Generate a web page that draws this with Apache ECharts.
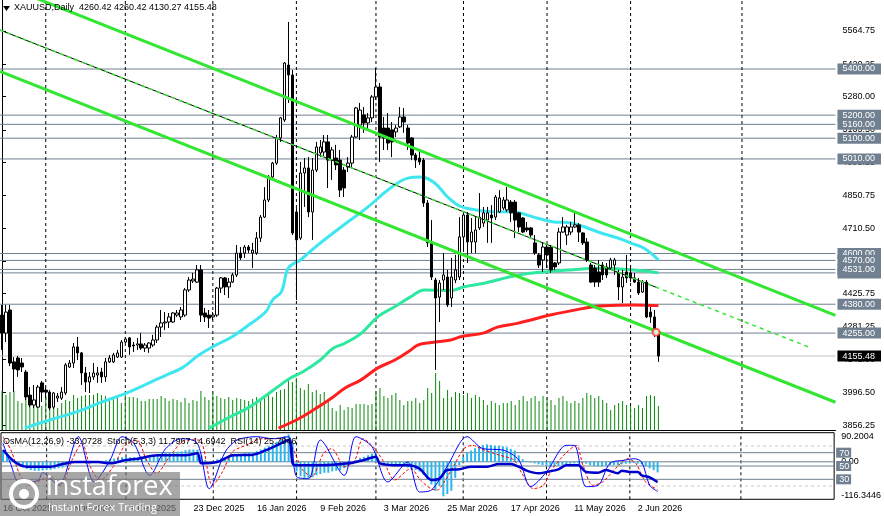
<!DOCTYPE html>
<html>
<head>
<meta charset="utf-8">
<script src="https://cdn.jsdelivr.net/npm/echarts@6/dist/echarts.min.js"></script>
<style>
html, body { margin: 0; padding: 0; background: #fff; }
#chart { width: 884px; height: 516px; }
</style>
</head>
<body>
<div id="chart"></div>
<script>
// XAUUSD daily, 16 Oct 2025 .. 9 Jun 2026
var open = [4333,4255,4355,4130,4147,4125,4086,3986,3943,3934,
  4039,4008,3999,3934,3973,3973,3995,4108,4125,4195,
  4169,4082,4043,4065,4073,4086,4065,4130,4130,4151,
  4151,4216,4234,4203,4203,4208,4190,4190,4203,4225,
  4281,4299,4303,4303,4333,4325,4333,4442,4481,4476,
  4529,4342,4333,4325,4333,4450,4494,4455,4476,4507,
  4602,4602,4628,4602,4602,4667,4758,4832,4932,4992,
  5101,5179,5417,5374,4780,4667,4949,4971,4780,4962,
  5036,5040,5084,5005,5014,5005,4962,4975,4992,5105,
  5157,5201,5166,5188,5279,5322,5144,5144,5136,5127,
  5149,5192,5144,5101,5027,5014,5005,4819,4646,4485,
  4411,4485,4498,4407,4485,4498,4672,4767,4650,4650,
  4711,4732,4745,4767,4758,4780,4797,4789,4823,4823,
  4776,4754,4711,4711,4646,4594,4572,4628,4628,4559,
  4559,4693,4680,4693,4715,4724,4689,4650,4550,4537,
  4520,4550,4542,4537,4550,4516,4455,4520,4516,4494,
  4476,4433,4476,4346,4325,4260.42];
var high = [4377,4377,4377,4151,4156,4147,4095,4021,4030,4030,
  4047,4021,4008,3999,3995,4021,4125,4138,4212,4238,
  4173,4108,4086,4125,4108,4104,4147,4160,4169,4182,
  4225,4238,4238,4216,4234,4255,4212,4216,4247,4290,
  4355,4346,4342,4346,4355,4368,4450,4498,4516,4550,
  4550,4364,4355,4346,4455,4498,4498,4494,4516,4637,
  4628,4637,4637,4646,4693,4767,4888,4940,4997,5114,
  5192,5430,5604,5396,4797,4997,5014,5018,5014,5084,
  5092,5114,5114,5062,5071,5049,4975,5018,5114,5235,
  5253,5235,5209,5287,5404,5339,5192,5209,5170,5157,
  5235,5231,5157,5105,5036,5049,5014,4832,4745,4494,
  4485,4602,4529,4581,4594,4758,4780,4780,4754,4758,
  4862,4802,4802,4810,4854,4875,4845,4888,4832,4832,
  4780,4758,4737,4715,4680,4602,4646,4637,4637,4563,
  4711,4758,4724,4737,4776,4732,4693,4667,4559,4550,
  4572,4563,4559,4581,4581,4529,4529,4594,4550,4516,
  4494,4485,4485,4368,4355,4260.42];
var low = [4182,4216,4112,3999,4065,4086,3965,3934,3930,3930,
  3956,3973,3921,3926,3956,3965,3986,4104,4104,4138,
  4030,3999,3995,4052,4039,4039,4043,4125,4125,4147,
  4147,4212,4160,4173,4182,4182,4173,4169,4195,4212,
  4238,4268,4277,4299,4325,4312,4325,4433,4472,4472,
  4303,4303,4277,4312,4325,4429,4420,4407,4472,4498,
  4572,4581,4602,4537,4594,4650,4754,4823,4927,4984,
  5084,5170,5253,4680,4398,4659,4802,4758,4659,4953,
  5018,5018,4884,4919,4962,4845,4845,4953,4975,5101,
  5092,5123,5136,5170,5266,4997,5049,5049,5018,5105,
  5144,5123,5049,5005,4971,4984,4802,4628,4485,4095,
  4303,4442,4368,4368,4472,4485,4607,4559,4602,4602,
  4702,4715,4646,4646,4745,4776,4789,4780,4737,4667,
  4693,4689,4693,4667,4594,4537,4520,4537,4516,4529,
  4550,4689,4637,4680,4711,4650,4637,4563,4472,4455,
  4455,4485,4494,4529,4507,4398,4385,4472,4476,4472,
  4420,4429,4320,4299,4238,4130.27];
var close = [4255,4346,4125,4099,4095,4108,3978,3943,3965,4021,
  3999,3999,3930,3995,3982,3999,4117,4125,4195,4169,
  4082,4043,4065,4082,4082,4065,4130,4147,4160,4169,
  4216,4229,4195,4199,4208,4190,4203,4212,4225,4281,
  4299,4303,4325,4342,4342,4355,4442,4485,4489,4529,
  4333,4325,4320,4333,4450,4494,4455,4476,4507,4602,
  4581,4628,4615,4615,4667,4758,4832,4932,4992,5101,
  5188,5426,5374,4689,4659,4949,4971,4780,4962,5062,
  5062,5084,5005,5049,4984,4875,4884,4992,5105,5231,
  5222,5166,5188,5279,5322,5105,5101,5079,5084,5144,
  5192,5170,5079,5027,5005,4997,4819,4646,4498,4407,
  4472,4507,4377,4498,4529,4672,4767,4650,4693,4702,
  4758,4776,4776,4754,4845,4841,4832,4832,4776,4745,
  4715,4693,4702,4680,4602,4550,4628,4594,4529,4542,
  4693,4715,4715,4715,4724,4693,4646,4572,4476,4476,
  4476,4507,4507,4572,4572,4455,4498,4494,4494,4476,
  4429,4476,4325,4325,4255,4155.48];
var volume = [39,35,38,39,29,27,32,34,25,29, 24,35,30,27,22,27,30,29,35,32,
  34,35,35,35,37,35,34,32,32,32, 27,36,33,33,32,29,29,31,31,31, 34,32,
  29,31,30,28,32,27,30,29,39,33, 30,37,34,32,31,33,30,32,31,30,
  29,31,33,30,32,35,33,38,40,41, 50,48,52,42,40,46,38,40,36,38, 29,22,
  19,25,20,23,22,26,26,26,25,26, 37,42,34,32,35,37,30,25,29,29,
  32,27,30,42,37,57,49,32,40,33, 38,37,35,37,32,35,33,30,25,29,
  27,25,27,27,29,25,30,34,29,32, 34,29,34,32,30,25,32,34,29,27,
  29,27,32,37,35,32,34,30,27,20, 25,27,29,25,24,22,25,22,34,35, 34,24];

// moving averages: [bar, price]
var maCyan = [[5.75,3843],[12,3878],[18.75,3913],[24.5,3952],[31.25,3995],[37,4039],[41.25,4073],
  [45.25,4104],[49.5,4160],[53.75,4203],[57.75,4238],[62,4290],[66.25,4346],[68,4398],[70.25,4435],
  [72,4537],[75,4572],[78.75,4628],[85.25,4715],[92,4802],[97,4875],[102,4927],[105.25,4932],
  [108.75,4906],[112,4845],[115,4806],[119,4789],[123.25,4781],[128.25,4781],[133.25,4760],
  [138.25,4738],[143.25,4731],[150.75,4688],[155,4666],[158.25,4644],[161.5,4622],[165,4572]];
var maGreen = [[52,3842],[57.4,3892],[62.4,3936],[68.25,4008],[72.4,4059],[75.75,4088],[80,4138],
  [83.25,4189],[86.2,4211],[90.3,4254],[94.5,4326],[98.7,4369],[102.8,4413],[106.2,4442],
  [112.8,4440],[116.2,4456],[121.2,4471],[127.8,4499],[132.8,4514],[142,4528],[150.3,4536],
  [158.7,4528],[165,4516]];
var maRed = [[69.5,3843],[74,3878],[78.25,3921],[83.25,3978],[86.25,4017],[90.25,4052],[94.5,4104],
  [98.75,4138],[102.75,4182],[104.5,4203],[108,4214],[112.8,4225],[115.3,4239],[121.2,4256],
  [124.5,4281],[129.5,4297],[137.8,4333],[146.2,4362],[150.3,4372],[158.7,4377],[165,4374]];

// drawn objects
var trendUpper = [[-0.5,5769],[209.5,4332]];
var trendLower = [[-0.5,5390],[209.5,3955]];
var trendMid = [[-0.5,5569],[164.5,4453]];
var trendMidExt = [[-0.5,5569],[203.3,4191]];
var hLevels = [5400,5200,5160,5100,5010,4600,4570,4516,4531,4380,4255];
var bidPrice = 4155.48;
var priceTicks = [5564.75,5420.25,5280.00,5135.50,4995.25,4850.75,4710.50,4566.00,4425.75,4281.25,4141.00,3996.50,3856.25];
var monthBars = [11,31,53,74,94,116,137,158,186];

// indicator window
var osma = [33,25,8,-5,-12,-18,-22,-26,-28,-28, -27,-25,-25,-22,-20,-18,-12,-8,-4,-2,
  -3,-6,-5,-3,2,3,5,8,10,12, 14,15,14,14,13,14,15,16,18,22,
  26,28,29,30,31,32,36,38,38,38, 20,6,-4,2,8,12,14,16,18,22,
  24,27,29,30,33,38,44,50,56,62, 70,80,85,60,-30,-45,-50,-52,-48,-42,
  -38,-34,-34,-30,-28,-26,-20,-14,-8,5, 12,15,20,25,28,-2,-6,-10,-12,-10,
  -12,-14,-18,-22,-26,-30,-40,-55,-70,-90, -76,-107,-100,-90,-50,-10,15,28,35,42,
  48,52,54,52,50,50,48,45,40,35, 20,8,2,-2,-5,-8,-10,-12,-15,-14,
  -12,-10,-8,-6,-5,-5,-4,-6,-10,-12, -14,-14,-12,-10,-10,-10,-8,-6,-5,-4,
  -6,-8,-14,-20,-26,-33.07];
var stochMain = [[0,84],[2,52],[4,26],[7,26],[9,29],[10,40],[14,21],[19,94],[23,26],[27,59],[30,94],
  [33,84],[37,36],[41,76],[45,91],[49,84],[52,16],[56,71],[59,89],[64,94],[68,91],[72,94],[74,34],
  [77,31],[80,89],[86,36],[89,94],[93,79],[97,26],[102,56],[105,11],[108,14],[112,50],[117,94],
  [121,76],[126,74],[130,59],[133,19],[137,41],[142,81],[144,81],[147,19],[150,21],[153,54],
  [157,59],[159,61],[161,56],[163,21],[165,11.8]];
var stochSignal = [[0,94],[2,74],[4.5,34],[7,21],[9.5,29],[12,34],[14.5,21],[17.4,59],[19.9,84],
  [22,49],[24.5,29],[27.8,49],[30.75,81],[33.7,89],[36.2,59],[38.7,39],[42,64],[46.2,89],[49.5,89],
  [52.8,21],[55.3,41],[57.8,71],[61.2,81],[65.3,91],[70.3,91],[72.8,79],[75.3,46],[77.8,34],
  [80.8,69],[82.8,76],[86.2,49],[88.7,59],[90.75,91],[93.7,76],[96.2,54],[98.7,29],[102.8,46],
  [105.2,29],[107.8,16],[109.5,14],[111.2,26],[113.7,51],[116.2,76],[118.3,81],[121.2,74],
  [125.3,66],[128.8,59],[130.8,39],[133.7,16],[136.2,21],[138.3,44],[141.8,69],[144.5,81],
  [146.2,51],[148.7,21],[151.2,26],[152.8,36],[154.9,49],[157.4,61],[159.5,54],[162,26],[165,14.7]];
var rsi = [[0,74],[3,56],[6,49],[12,49],[15,53],[18,56],[24,56],[27,54],[31,59],[34,61],[39,66],
  [46,66],[49,69],[50,54],[54,56],[58,66],[63,67],[66,73],[69,81],[72,89],[73,54],[74,51],[80,51],
  [87,54],[91,59],[94,64],[95,54],[100,51],[102,51],[105,46],[108,29],[110,31],[112,44],[115,45],
  [118,49],[122,49],[125,53],[128,53],[130,49],[132,43],[135,39],[137,41],[140,45],[142,51],
  [145,51],[147,41],[150,40],[152,44],[155,39],[156,43],[158,41],[160,41],[161,36],[163,33],[165,25.8]];
var stochLevels = [80,70,50,30,20];
var osmaTicks = [90.2004,0,-116.3446];

var holidays = ['2025-12-25','2026-01-01','2026-04-03'];
var monthNames = ['Jan','Feb','Mar','Apr','May','Jun','Jul','Aug','Sep','Oct','Nov','Dec'];
function buildDates(n) {
  var out = [], d = new Date(Date.UTC(2025, 9, 16));
  while (out.length < n) {
    var wd = d.getUTCDay(), iso = d.toISOString().slice(0, 10);
    if (wd !== 0 && wd !== 6 && holidays.indexOf(iso) < 0) {
      out.push(d.getUTCDate() + ' ' + monthNames[d.getUTCMonth()] + ' ' + d.getUTCFullYear());
    }
    d.setUTCDate(d.getUTCDate() + 1);
  }
  return out;
}

var NBARS = 210;
var dates = buildDates(NBARS);
var PMIN = 3834.7, PMAX = 5699.2;
var FONT = 'Liberation Sans';
var SLATE = '#708090';

var candleData = open.map(function (o, i) { return [o, close[i], low[i], high[i]]; });

function flat(v, xi, yi, color, type, z) {
  return {
    type: 'line', xAxisIndex: xi, yAxisIndex: yi, data: [[-0.5, v], [NBARS - 0.5, v]],
    symbol: 'none', silent: true, z: z || 1,
    lineStyle: { color: color, width: 1, type: type || 'solid' }
  };
}

var series = [];
hLevels.forEach(function (v) { series.push(flat(v, 1, 0, SLATE)); });
series.push(flat(bidPrice, 1, 0, '#c0c0c0'));
monthBars.forEach(function (b) {
  series.push({ type: 'line', xAxisIndex: 1, yAxisIndex: 0, data: [[b, PMIN], [b, PMAX]], symbol: 'none',
    silent: true, z: 1, lineStyle: { color: '#000', width: 1, type: [3, 3] } });
  series.push({ type: 'line', xAxisIndex: 3, yAxisIndex: 5, data: [[b, 0], [b, 100]], symbol: 'none',
    silent: true, z: 1, lineStyle: { color: '#000', width: 1, type: [3, 3] } });
});
series.push({ type: 'bar', xAxisIndex: 0, yAxisIndex: 3, data: volume, barWidth: 1,
  itemStyle: { color: '#0a8a0a' }, z: 2, silent: true });
[[maGreen, '#2ee8a0'], [maRed, '#ff1f1f'], [maCyan, '#3ee6f0']].forEach(function (m) {
  series.push({ type: 'line', xAxisIndex: 1, yAxisIndex: 0, data: m[0], symbol: 'none', smooth: 0.4,
    lineStyle: { color: m[1], width: 3 }, z: 3, silent: true });
});
series.push({ type: 'candlestick', xAxisIndex: 0, yAxisIndex: 0, data: candleData, barWidth: 3, z: 4,
  itemStyle: { color: '#fff', color0: '#000', borderColor: '#000', borderColor0: '#000', borderWidth: 1 } });
series.push({ type: 'line', xAxisIndex: 1, yAxisIndex: 0, data: trendMid, symbol: 'none', z: 5,
  lineStyle: { color: '#000', width: 1 } });
series.push({ type: 'line', xAxisIndex: 1, yAxisIndex: 0, data: trendMidExt, symbol: 'none', z: 5,
  lineStyle: { color: '#32e632', width: 1.5, type: [4, 4] } });
[trendUpper, trendLower].forEach(function (t) {
  series.push({ type: 'line', xAxisIndex: 1, yAxisIndex: 0, data: t, symbol: 'none', z: 5,
    lineStyle: { color: '#32e632', width: 3 } });
});
series.push({ type: 'scatter', xAxisIndex: 1, yAxisIndex: 0, data: [[164.4, 4259]], symbol: 'emptyCircle',
  symbolSize: 7, itemStyle: { color: '#ff3030', borderWidth: 1.5 }, z: 6 });

// indicator window
series.push(flat(0, 3, 4, SLATE));
series.push(flat(80, 3, 5, '#c8c8c8', [3, 3]));
series.push(flat(70, 3, 5, SLATE));
series.push(flat(50, 3, 5, SLATE));
series.push(flat(30, 3, 5, SLATE));
series.push(flat(20, 3, 5, '#c8c8c8', [3, 3]));
series.push({ type: 'bar', xAxisIndex: 2, yAxisIndex: 4, data: osma, barWidth: 2,
  itemStyle: { color: '#2db6ea' }, z: 2 });
series.push({ type: 'line', xAxisIndex: 3, yAxisIndex: 5, data: stochSignal, symbol: 'none', smooth: 0.3,
  lineStyle: { color: '#ff0000', width: 1, type: [3, 2] }, z: 3 });
series.push({ type: 'line', xAxisIndex: 3, yAxisIndex: 5, data: stochMain, symbol: 'none', smooth: 0.3,
  lineStyle: { color: '#0000ff', width: 1 }, z: 4 });
series.push({ type: 'line', xAxisIndex: 3, yAxisIndex: 5, data: rsi, symbol: 'none', smooth: 0.3,
  lineStyle: { color: '#0000cd', width: 2.5 }, z: 5 });

var labelFont = { fontFamily: FONT, fontSize: 9, color: '#000' };

var option = {
  animation: false,
  backgroundColor: '#fff',
  grid: [
    { left: 0, top: 0, width: 838, height: 430 },
    { left: 0, top: 432.7, width: 838, height: 66.6, show: true, borderColor: '#000', borderWidth: 1 }
  ],
  xAxis: [
    { type: 'category', gridIndex: 0, data: dates, boundaryGap: true,
      axisLine: { onZero: false, lineStyle: { color: '#000' } }, axisTick: { show: false }, axisLabel: { show: false } },
    { type: 'value', gridIndex: 0, min: -0.5, max: NBARS - 0.5, show: false, axisLine: { onZero: false } },
    { type: 'category', gridIndex: 1, data: dates, boundaryGap: true,
      axisLine: { onZero: false, show: false }, axisTick: { show: false },
      axisLabel: Object.assign({ align: 'left', margin: 5,
        interval: function (i) { return i % 16 === 0 && i <= 160; } }, labelFont) },
    { type: 'value', gridIndex: 1, min: -0.5, max: NBARS - 0.5, show: false, axisLine: { onZero: false } }
  ],
  yAxis: [
    { type: 'value', gridIndex: 0, position: 'right', min: PMIN, max: PMAX,
      axisLine: { show: true, lineStyle: { color: '#000' } },
      axisTick: { show: true, length: 4, customValues: priceTicks, lineStyle: { color: '#000' } },
      axisLabel: Object.assign({ customValues: priceTicks, margin: 7,
        formatter: function (v) { return v.toFixed(2); } }, labelFont),
      splitLine: { show: false } },
    { type: 'value', gridIndex: 0, position: 'right', min: PMIN, max: PMAX,
      axisLine: { show: false }, axisTick: { show: false }, splitLine: { show: false },
      axisLabel: { customValues: hLevels, margin: 2, fontFamily: FONT, fontSize: 9, color: '#fff',
        backgroundColor: SLATE, padding: [1, 6, 0, 5], lineHeight: 10,
        formatter: function (v) { return v.toFixed(2); } } },
    { type: 'value', gridIndex: 0, position: 'right', min: PMIN, max: PMAX,
      axisLine: { show: false }, axisTick: { show: false }, splitLine: { show: false },
      axisLabel: { customValues: [bidPrice], margin: 2, fontFamily: FONT, fontSize: 9, color: '#fff',
        backgroundColor: '#000', padding: [1, 6, 0, 5], lineHeight: 10,
        formatter: function (v) { return v.toFixed(2); } } },
    { type: 'value', gridIndex: 0, position: 'right', min: 0, max: 430, show: false },
    { type: 'value', gridIndex: 1, position: 'right', min: -116.3446, max: 90.2004,
      axisLine: { show: false }, axisTick: { show: false }, splitLine: { show: false },
      axisLabel: Object.assign({ customValues: osmaTicks, margin: 7,
        formatter: function (v) {
          if (v > 1) return '{t|' + v.toFixed(4) + '}';
          if (v < -1) return '{b|' + v.toFixed(4) + '}';
          return '0.00';
        },
        rich: { t: { fontFamily: FONT, fontSize: 9, padding: [8, 0, 0, 0] },
                b: { fontFamily: FONT, fontSize: 9, padding: [0, 0, 8, 0] } } }, labelFont) },
    { type: 'value', gridIndex: 1, position: 'right', min: 0, max: 100,
      axisLine: { show: false }, axisTick: { show: false }, splitLine: { show: false },
      axisLabel: { customValues: stochLevels, margin: 2,
        formatter: function (v) { return (v === 80 || v === 20) ? '{p|' + v + '}' : '{k|' + v + '}'; },
        rich: { p: { fontFamily: FONT, fontSize: 9, color: '#000', padding: [0, 0, 0, 5] },
                k: { fontFamily: FONT, fontSize: 9, color: '#fff', backgroundColor: SLATE,
                     padding: [1, 2, 0, 3], lineHeight: 10 } } } }
  ],
  graphic: [
    { type: 'polygon', shape: { points: [[3, 6], [10, 6], [6.5, 11]] }, style: { fill: '#000' }, z: 100 },
    { type: 'text', left: 14, top: 3, z: 100,
      style: { text: 'XAUUSD,Daily  4260.42 4260.42 4130.27 4155.48', font: '9px "Liberation Sans"', fill: '#000' } },
    { type: 'text', left: 3, top: 437, z: 100,
      style: { text: 'OsMA(12,26,9) -33.0728  Stoch(5,3,3) 11.7967 14.6942  RSI(14) 25.7946',
        font: '9px "Liberation Sans"', fill: '#000' } },
    { type: 'rect', shape: { x: 0, y: 472, width: 180, height: 44 }, style: { fill: 'rgba(120,120,120,0.66)' }, z: 200 },
    { type: 'circle', shape: { cx: 24, cy: 494, r: 13 }, style: { fill: 'none', stroke: '#fff', lineWidth: 4 }, z: 201 },
    { type: 'circle', shape: { cx: 24, cy: 494, r: 5 }, style: { fill: '#fff' }, z: 201 },
    { type: 'text', left: 46, top: 474, z: 201,
      style: { text: 'instaforex', font: '27px "Open Sans"', fill: '#fff' } },
    { type: 'text', left: 48, top: 502, z: 201,
      style: { text: 'Instant Forex Trading', font: '11px "Open Sans"', fill: '#fff' } }
  ],
  series: series
};

var chart = echarts.init(document.getElementById('chart'), null, { renderer: 'canvas' });
chart.setOption(option);
</script>
</body>
</html>
